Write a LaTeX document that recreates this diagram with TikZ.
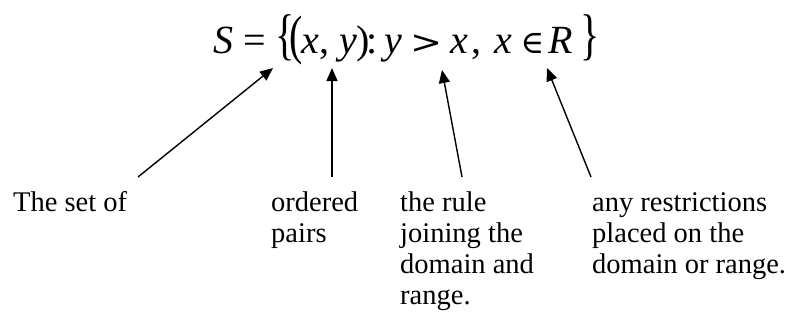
\documentclass[tikz,border=0pt]{standalone}
\usepackage{fontspec}
\setmainfont{Liberation Serif}
\newfontfamily\symfont{DejaVu Serif}
\usetikzlibrary{arrows.meta}
\newcommand{\iv}[1]{\textit{#1}}
\newcommand{\sy}[1]{{\symfont\fontsize{32}{40}\selectfont #1}}
\begin{document}
\begin{tikzpicture}[x=1pt,y=-1pt,
  lbl/.style={anchor=base west,inner sep=0pt,align=left,font=\fontsize{28.5}{31}\selectfont},
  eqn/.style={anchor=base west,inner sep=0pt,font=\fontsize{40}{44}\selectfont},
  arr/.style={line width=1.4pt,-{Triangle[length=13pt,width=11pt]}}]
\useasboundingbox (0,0) rectangle (792,324);
\node[eqn] (eq) at (213,53) {\iv{S} = \scalebox{1}[1.4]{\{}\kern-5pt\scalebox{1}[1.35]{(}\kern-2pt\iv{x}, \iv{y})\kern-4pt:\kern7pt\iv{y}\kern8pt\scalebox{1.2}[1]{\sy{>}}\kern8pt\iv{x}\kern4pt,\kern3pt\ \iv{x}\kern8pt\sy{∈}\kern4pt\iv{R}\kern8pt\scalebox{1}[1.4]{\}}};
\node[lbl] (set) at (13,211) {The set of};
\node[lbl] (pairs) at (271,242) {ordered\\pairs};
\node[lbl] (rule) at (400,304) {the rule\\joining the\\domain and\\range.};
\node[lbl] (restr) at (592,273) {any restrictions\\placed on the\\domain or range.};
\coordinate (t1) at (273,68);
\coordinate (t2) at (332,68);
\coordinate (t3) at (442,70);
\coordinate (t4) at (547,68);
\coordinate (s1) at (138,177);
\coordinate (s2) at (332,177);
\coordinate (s3) at (462,177);
\coordinate (s4) at (591,177);
\draw[arr] (s1) -- (t1);
\draw[arr] (s2) -- (t2);
\draw[arr] (s3) -- (t3);
\draw[arr] (s4) -- (t4);
\end{tikzpicture}
\end{document}
